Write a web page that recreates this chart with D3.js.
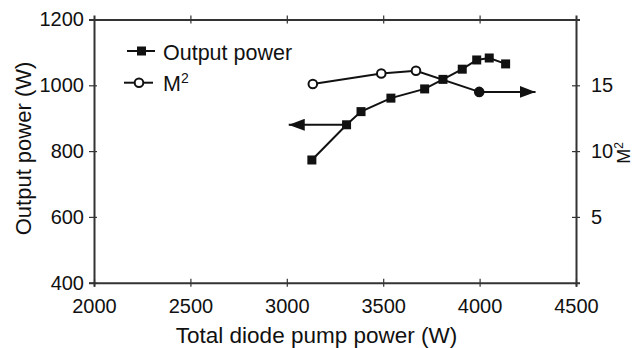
<!DOCTYPE html>
<html>
<head>
<meta charset="utf-8">
<script src="https://cdn.jsdelivr.net/npm/d3@7"></script>
<style>
  body { margin: 0; background: #fff; }
  text { font-family: "Liberation Sans", Arial, sans-serif; fill: #111; }
  .axis path, .axis line { stroke: #333; }
</style>
</head>
<body>
<div id="chart"></div>
<script>
// pump power (W) for the output power points
var pumpPower = [3130, 3310, 3385, 3540, 3715, 3810, 3910, 3985, 4050, 4135];
var outputPower = [773, 880, 920, 961, 989, 1018, 1049, 1077, 1083, 1065];

// pump power (W) for the M2 points
var pumpM2 = [3135, 3490, 3670, 3998];
var m2Values = [15.1, 15.9, 16.1, 14.5];

// arrows pointing to the axis each curve belongs to
var leftArrow = [3310, 3010];   // at output power 880
var rightArrow = [3998, 4290];  // at M2 14.5

var xTicks = [2000, 2500, 3000, 3500, 4000, 4500];
var yTicks = [400, 600, 800, 1000, 1200];
var y2Ticks = [5, 10, 15, 20];

var margin = { top: 19.5, right: 59, bottom: 65.3, left: 94 };
var width = 635 - margin.left - margin.right;
var height = 348 - margin.top - margin.bottom;

var svg = d3.select("#chart").append("svg")
  .attr("width", 635)
  .attr("height", 348)
  .append("g")
  .attr("transform", "translate(" + margin.left + "," + margin.top + ")");

var x = d3.scaleLinear().domain([2000, 4500]).range([0, width]);
var y = d3.scaleLinear().domain([400, 1200]).range([height, 0]);
var y2 = d3.scaleLinear().domain([0, 20]).range([height, 0]);

var defs = svg.append("defs");
defs.append("marker")
  .attr("id", "head")
  .attr("viewBox", "0 0 16 12")
  .attr("refX", 16).attr("refY", 6)
  .attr("markerWidth", 16).attr("markerHeight", 12)
  .attr("markerUnits", "userSpaceOnUse")
  .attr("orient", "auto")
  .append("path")
  .attr("d", "M0,0L16,6L0,12Z")
  .attr("fill", "#111");

// bottom axis
var xAxis = svg.append("g")
  .attr("class", "axis")
  .attr("transform", "translate(0," + height + ")")
  .call(d3.axisBottom(x).tickValues(xTicks).tickSize(4).tickPadding(12).tickFormat(d3.format("d")));
xAxis.selectAll(".tick line").attr("y1", -4);
xAxis.selectAll("text").style("font-size", "20px");

// top axis, ticks only
var topAxis = svg.append("g")
  .attr("class", "axis")
  .call(d3.axisTop(x).tickValues(xTicks.slice(1, -1)).tickSize(4).tickFormat(""));
topAxis.selectAll(".tick line").attr("y1", 4);

// left axis
var yAxis = svg.append("g")
  .attr("class", "axis")
  .call(d3.axisLeft(y).tickValues(yTicks).tickSize(5).tickPadding(5).tickFormat(d3.format("d")));
yAxis.selectAll(".tick line").attr("x1", 3);
yAxis.selectAll("text").style("font-size", "20px");

// right axis
var y2Axis = svg.append("g")
  .attr("class", "axis")
  .attr("transform", "translate(" + width + ",0)")
  .call(d3.axisRight(y2).tickValues(y2Ticks).tickSize(4).tickPadding(11)
    .tickFormat(function (d) { return d === 20 ? "" : d; }));
y2Axis.selectAll(".tick line").attr("x1", -4);
y2Axis.selectAll("text").style("font-size", "20px");

svg.selectAll(".axis path").attr("stroke-width", 2);
svg.selectAll(".axis .tick line").attr("stroke-width", 1.2);

// axis titles
svg.append("text")
  .attr("x", 316.5 - margin.left)
  .attr("y", 342.5 - margin.top)
  .attr("text-anchor", "middle")
  .style("font-size", "22.5px")
  .text("Total diode pump power (W)");

svg.append("text")
  .attr("transform", "translate(" + (31 - margin.left) + "," + (148.5 - margin.top) + ") rotate(-90)")
  .attr("text-anchor", "middle")
  .style("font-size", "22px")
  .text("Output power (W)");

var m2Title = svg.append("text")
  .attr("transform", "translate(" + (630 - margin.left) + "," + (153 - margin.top) + ") rotate(-90)")
  .attr("text-anchor", "middle")
  .style("font-size", "18px");
m2Title.append("tspan").text("M");
m2Title.append("tspan").attr("dy", -7).style("font-size", "12px").text("2");

// lines
var outputLine = d3.line()
  .x(function (d, i) { return x(pumpPower[i]); })
  .y(function (d) { return y(d); });
var m2Line = d3.line()
  .x(function (d, i) { return x(pumpM2[i]); })
  .y(function (d) { return y2(d); });

svg.append("path")
  .datum(outputPower)
  .attr("d", outputLine)
  .attr("fill", "none").attr("stroke", "#111").attr("stroke-width", 2);

svg.append("path")
  .datum(m2Values)
  .attr("d", m2Line)
  .attr("fill", "none").attr("stroke", "#111").attr("stroke-width", 2);

// arrows
svg.append("line")
  .attr("x1", x(leftArrow[0])).attr("x2", x(leftArrow[1]))
  .attr("y1", y(outputPower[1])).attr("y2", y(outputPower[1]))
  .attr("stroke", "#111").attr("stroke-width", 2)
  .attr("marker-end", "url(#head)");

svg.append("line")
  .attr("x1", x(rightArrow[0])).attr("x2", x(rightArrow[1]))
  .attr("y1", y2(m2Values[3])).attr("y2", y2(m2Values[3]))
  .attr("stroke", "#111").attr("stroke-width", 2)
  .attr("marker-end", "url(#head)");

// markers
svg.selectAll(".sq")
  .data(outputPower)
  .enter().append("rect")
  .attr("class", "sq")
  .attr("x", function (d, i) { return x(pumpPower[i]) - 4.5; })
  .attr("y", function (d) { return y(d) - 4.5; })
  .attr("width", 9).attr("height", 9)
  .attr("fill", "#111");

svg.selectAll(".circ")
  .data(m2Values)
  .enter().append("circle")
  .attr("class", "circ")
  .attr("cx", function (d, i) { return x(pumpM2[i]); })
  .attr("cy", function (d) { return y2(d); })
  .attr("r", 4.3)
  .attr("fill", function (d, i) { return i === m2Values.length - 1 ? "#111" : "#fff"; })
  .attr("stroke", "#111").attr("stroke-width", 2);

// legend
var legend = svg.append("g").attr("transform", "translate(" + (-margin.left) + "," + (-margin.top) + ")");
legend.append("line").attr("x1", 127).attr("x2", 155).attr("y1", 51).attr("y2", 51)
  .attr("stroke", "#111").attr("stroke-width", 2);
legend.append("rect").attr("x", 137).attr("y", 46.5).attr("width", 9).attr("height", 9).attr("fill", "#111");
legend.append("text").attr("x", 163).attr("y", 59.5).style("font-size", "21.5px").text("Output power");

legend.append("line").attr("x1", 124).attr("x2", 153).attr("y1", 82.7).attr("y2", 82.7)
  .attr("stroke", "#111").attr("stroke-width", 2);
legend.append("circle").attr("cx", 139).attr("cy", 82.7).attr("r", 4.3)
  .attr("fill", "#fff").attr("stroke", "#111").attr("stroke-width", 2);
var m2Legend = legend.append("text").attr("x", 163).attr("y", 91).style("font-size", "21.5px");
m2Legend.append("tspan").text("M");
m2Legend.append("tspan").attr("dy", -8).style("font-size", "14px").text("2");
</script>
</body>
</html>
